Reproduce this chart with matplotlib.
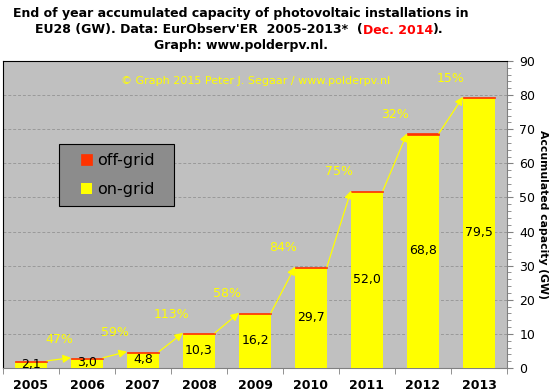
import numpy as np
import matplotlib.pyplot as plt
from matplotlib.patches import Rectangle

years = ["2005", "2006", "2007", "2008", "2009", "2010", "2011", "2012", "2013"]
total = [2.1, 3.0, 4.8, 10.3, 16.2, 29.7, 52.0, 68.8, 79.5]
off_grid = [0.4, 0.4, 0.4, 0.4, 0.4, 0.4, 0.4, 0.4, 0.4]
growth = ["47%", "59%", "113%", "58%", "84%", "75%", "32%", "15%"]

on_grid = [t - o for t, o in zip(total, off_grid)]

fig = plt.figure(figsize=(5.51, 3.91), dpi=100)
ax = fig.add_axes([3 / 551, 1 - 368 / 391, 504 / 551, 307 / 391])
ax.set_facecolor("#C0C0C0")

x = np.arange(len(years))
bw = 0.57
ax.bar(x, on_grid, bw, color="#FFFF00", zorder=3, label="on-grid")
ax.bar(x, off_grid, bw, bottom=on_grid, color="#FF3300", edgecolor="#FF3300",
       linewidth=0.5, zorder=3, label="off-grid")

for i, v in enumerate(total):
    ax.text(i, v / 2, f"{v:.1f}".replace(".", ","), ha="center", va="center",
            fontsize=9, color="black", zorder=5)

for i, g in enumerate(growth):
    ax.annotate("", xy=(i + 1 - bw / 2, total[i + 1]), xytext=(i + bw / 2, total[i]),
                arrowprops=dict(arrowstyle="-|>", color="#FFFF00", lw=0.9,
                                mutation_scale=12, shrinkA=0, shrinkB=0), zorder=4)
    ax.text(i + 0.5, total[i + 1] + 5.5, g, ha="center", va="center",
            fontsize=9, color="#FFFF00", zorder=5)

ax.text(1.6, 84, "© Graph 2015 Peter J. Segaar / www.polderpv.nl", ha="left",
        va="center", fontsize=8, color="#FFFF00")

ax.set_xlim(-0.5, len(years) - 0.5)
ax.set_ylim(0, 90)
ax.set_xticks(x)
ax.set_xticklabels(years, fontweight="bold", fontsize=9)
ax.set_xticks(np.arange(-0.5, len(years)), minor=True)
ax.tick_params(axis="x", which="major", length=0, pad=8)
ax.tick_params(axis="x", which="minor", length=4, color="#808080")

ax.yaxis.tick_right()
ax.yaxis.set_label_position("right")
ax.set_yticks(np.arange(0, 91, 10))
ax.set_yticks(np.arange(0, 91, 2), minor=True)
ax.tick_params(axis="y", which="major", length=4, color="#808080", labelsize=9, pad=5)
ax.tick_params(axis="y", which="minor", length=3, color="#808080")
ax.set_ylabel("Accumulated capacity (GW)", rotation=-90, fontweight="bold",
              fontsize=7.8, labelpad=9)
ax.grid(axis="y", color="#999999", linestyle=(0, (3, 2)), lw=0.7, zorder=1)

ax.spines["left"].set_color("black")
ax.spines["top"].set_color("black")
ax.spines["right"].set_color("#808080")
ax.spines["bottom"].set_color("#808080")

# legend box drawn by hand, legend itself frameless inside it
ax.add_patch(Rectangle((0.111, 0.528), 0.228, 0.202, transform=ax.transAxes,
                       facecolor="#8C8C8C", edgecolor="black", lw=0.8, zorder=6))
h, l = ax.get_legend_handles_labels()
leg = ax.legend(h[::-1], l[::-1], loc="center left", bbox_to_anchor=(0.155, 0.629),
                fontsize=11.5, frameon=False, handlelength=0.7, handleheight=0.7,
                handletextpad=0.3, borderpad=0, labelspacing=0.9, borderaxespad=0)
leg.set_zorder(7)

tkw = dict(fontsize=9, fontweight="bold", ha="center", va="center")
fig.text(241 / 551, 1 - 13 / 391,
         "End of year accumulated capacity of photovoltaic installations in", **tkw)
t1 = fig.text(35 / 551, 1 - 30 / 391, "EU28 (GW). Data: EurObserv'ER  2005-2013*  (",
              fontsize=9, fontweight="bold", ha="left", va="center")
t2 = ax.annotate("Dec. 2014", xy=(1, 0), xycoords=t1, va="bottom", ha="left",
                 fontsize=9, fontweight="bold", color="red")
ax.annotate(").", xy=(1, 0), xycoords=t2, va="bottom", ha="left",
            fontsize=9, fontweight="bold", color="black")
fig.text(241 / 551, 1 - 46 / 391, "Graph: www.polderpv.nl.", **tkw)

fig.savefig("out.png", dpi=100)
